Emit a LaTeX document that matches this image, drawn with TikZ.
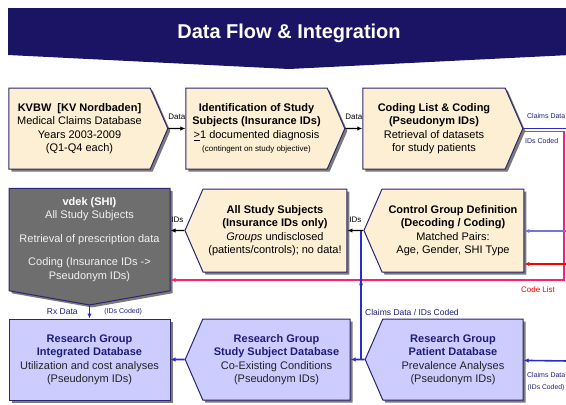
\documentclass[tikz,border=0pt]{standalone}
\usepackage{fontspec}
\setmainfont{Liberation Sans}
\usetikzlibrary{arrows.meta,positioning,shapes,shadows,calc}
\definecolor{navy900}{HTML}{1B1464}
\definecolor{navy700}{HTML}{1E1E78}
\definecolor{edge800}{HTML}{2A2670}
\definecolor{sand100}{HTML}{FCEFD3}
\definecolor{lav200}{HTML}{CCCCFF}
\definecolor{gray500}{HTML}{6E6E6E}
\definecolor{gray100}{HTML}{F2F2F2}
\definecolor{shade600}{HTML}{7A7A7A}
\definecolor{ink900}{HTML}{222222}
\definecolor{blue600}{HTML}{2B2BC8}
\definecolor{blue300}{HTML}{7373DA}
\definecolor{pink500}{HTML}{FF1F6E}
\definecolor{red500}{HTML}{FF0000}

\begin{document}
\begin{tikzpicture}[x=1pt,y=-1pt,font=\fontsize{11}{13.5}\selectfont]
  % Styles
  \tikzset{
    box/.style={draw=edge800, line width=1pt, align=center, inner sep=1pt,
      drop shadow={shadow xshift=2.5pt, shadow yshift=-2.5pt, fill=shade600, opacity=1}},
    sandbox/.style={box, fill=sand100, text=black},
    lavbox/.style={box, fill=lav200, text=navy700},
    darkbox/.style={box, fill=gray500, text=gray100},
    toright/.style={signal, signal to=east, signal pointer angle=133},
    toleft/.style={signal, signal to=west, signal pointer angle=133},
    line/.style={-{Latex[length=5pt,width=4.5pt]}, line width=1.1pt, draw=black},
    claimlink/.style={-{Latex[length=5pt,width=4.5pt]}, line width=1.6pt, draw=blue600},
    thinlink/.style={-{Latex[length=5pt,width=4.5pt]}, line width=1.2pt, draw=blue300},
    codelink/.style={-{Latex[length=5pt,width=4.5pt]}, line width=1.1pt, draw=pink500},
    redlink/.style={-{Latex[length=5pt,width=4.5pt]}, line width=1.1pt, draw=red500},
    lbl/.style={font=\fontsize{8}{9}\selectfont, inner sep=1pt},
    tinylbl/.style={font=\fontsize{7}{8}\selectfont, inner sep=1pt},
  }
  \useasboundingbox (0,0) rectangle (566,405);

  % Title banner
  \fill[navy900] (8,8) -- (570,8) -- (570,55) -- (289,69) -- (8,55) -- cycle;
  \node[text=white, font=\fontsize{20}{23}\bfseries] (title) at (289,33) {Data Flow \& Integration};

  % Top row
  \node[sandbox, toright, minimum width=159pt, minimum height=81pt] (kvbw) at (79.5,128.5)
    {\textbf{KVBW\ \ [KV Nordbaden]}\\Medical Claims Database\\Years 2003-2009\\(Q1-Q4 each)};
  \node[sandbox, toright, minimum width=159pt, minimum height=81pt] (ident) at (256.5,128.5)
    {\textbf{Identification of Study}\\\textbf{Subjects (Insurance IDs)}\\\underline{>}1 documented diagnosis\\{\fontsize{8}{9.5}\selectfont(contingent on study objective)}};
  \node[sandbox, toright, minimum width=160pt, minimum height=81pt] (coding) at (434,128.5)
    {\textbf{Coding List \& Coding}\\\textbf{(Pseudonym IDs)}\\Retrieval of datasets\\for study patients};

  % Middle row
  \node[darkbox, signal, signal to=south, signal pointer angle=160, minimum width=161pt, minimum height=115pt] (vdek) at (89.5,239.5)
    {\textbf{\color{white}vdek (SHI)}\\All Study Subjects\\[10pt]Retrieval of prescription data\\[10pt]Coding (Insurance IDs ->\\Pseudonym IDs)};
  \node[sandbox, toleft, minimum width=162pt, minimum height=83pt] (allsub) at (275,230.5)
    {\textbf{All Study Subjects}\\\textbf{(Insurance IDs only)}\\\textit{Groups} undisclosed\\(patients/controls); no data!};
  \node[sandbox, toleft, minimum width=160pt, minimum height=83pt] (ctrl) at (453,230.5)
    {\textbf{Control Group Definition}\\\textbf{(Decoding / Coding)}\\Matched Pairs:\\Age, Gender, SHI Type};

  % Bottom row
  \node[lavbox, rectangle, minimum width=161pt, minimum height=81pt] (integ) at (89.5,359.5)
    {\textbf{Research Group}\\\textbf{Integrated Database}\\{\color{ink900}Utilization and cost analyses}\\{\color{ink900}(Pseudonym IDs)}};
  \node[lavbox, toleft, minimum width=165pt, minimum height=81pt] (subjdb) at (276.5,359.5)
    {\textbf{Research Group}\\\textbf{Study Subject Database}\\{\color{ink900}Co-Existing Conditions}\\{\color{ink900}(Pseudonym IDs)}};
  \node[lavbox, toleft, minimum width=158pt, minimum height=81pt] (patdb) at (453,359.5)
    {\textbf{Research Group}\\\textbf{Patient Database}\\{\color{ink900}Prevalence Analyses}\\{\color{ink900}(Pseudonym IDs)}};

  % Free ends at the right margin
  \coordinate (outclaims) at (568,128.5);
  \coordinate (outcodes) at (564,280);
  \coordinate (inblue) at (568,231);
  \coordinate (inred) at (568,264);
  \coordinate (inpat) at (568,361);
  \coordinate (split) at (361,230.5);

  % Links
  \draw[line] (kvbw) -- node[lbl, above=7pt] {Data} (ident);
  \draw[line] (ident) -- node[lbl, above=7pt] {Data} (coding);
  \draw[line] (ctrl) -- node[lbl, above=6pt] {IDs} (allsub);
  \draw[line] (allsub) -- node[lbl, above=6pt] {IDs} (allsub.west -| vdek.east);
  \draw[claimlink, -] (coding.east) -- (outclaims);
  \draw[codelink] ([yshift=-3pt]coding.east) -| (outcodes) -- (outcodes -| vdek.east);
  \draw[thinlink] (inblue) -- (inblue -| ctrl.east);
  \draw[redlink] (inred) -- (inred -| ctrl.east);
  \draw[claimlink] (split) -- ++(0,58);
  \draw[claimlink, -] (split) -- (split |- patdb.west);
  \draw[claimlink] (patdb) -- (subjdb);
  \draw[claimlink] (subjdb) -- (integ);
  \draw[claimlink] (inpat) -- (patdb);
  \draw[claimlink] (vdek.south) -- (integ.north)
    node[lbl, font=\fontsize{8.5}{9}\selectfont, text=navy700, midway, left=10pt] {Rx Data}
    node[tinylbl, text=navy700, midway, right=13pt] {(IDs Coded)};

  % Connector labels
  \node[lbl, text=navy700, anchor=east, font=\fontsize{7}{8}\selectfont, inner sep=0.5pt] (claimstop) at (566,116) {Claims Data};
  \node[tinylbl, text=navy700, anchor=west] (codedtop) at (524,141) {IDs Coded};
  \node[lbl, text=red500] (codelist) at (538,290) {Code List};
  \node[lbl, font=\fontsize{8.5}{9}\selectfont, text=navy700, anchor=west] (claimsmid) at (364,312) {Claims Data / IDs Coded};
  \node[lbl, text=navy700, anchor=east, font=\fontsize{7}{8}\selectfont, inner sep=0.5pt] (claimsbot) at (566,375) {Claims Data};
  \node[tinylbl, text=navy700, anchor=west, font=\fontsize{6.8}{8}\selectfont, inner sep=0.5pt] (codedbot) at (527,388) {(IDs Coded)};
\end{tikzpicture}
\end{document}
